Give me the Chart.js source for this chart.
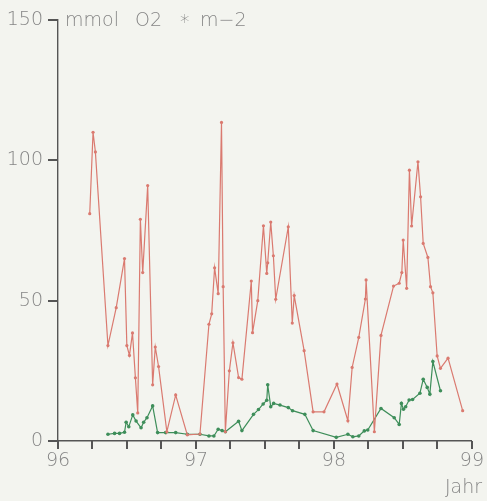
<!DOCTYPE html>
<html>
<head>
<meta charset="utf-8">
<script src="https://cdn.jsdelivr.net/npm/chart.js@4.4.0/dist/chart.umd.min.js"></script>
<style>
  html, body { margin: 0; padding: 0; background: #f3f4ef; }
  #wrap { width: 487px; height: 501px; }
</style>
</head>
<body>
<div id="wrap"><canvas id="o2-chart" width="487" height="501"></canvas></div>
<script>
// Red series (year, mmol O2 * m-2)
let redYears = [96.23, 96.254, 96.271, 96.362, 96.422, 96.482, 96.499, 96.518, 96.54, 96.561,
    96.578, 96.597, 96.614, 96.65, 96.686, 96.705, 96.729, 96.789, 96.853, 96.937,
    97.029, 97.094, 97.114, 97.135, 97.161, 97.185, 97.197, 97.213, 97.242, 97.268,
    97.309, 97.333, 97.401, 97.41, 97.448, 97.489, 97.513, 97.52, 97.542, 97.561,
    97.578, 97.669, 97.698, 97.712, 97.784, 97.849, 97.928, 98.022, 98.101, 98.132,
    98.18, 98.228, 98.233, 98.293, 98.341, 98.432, 98.473, 98.492, 98.502, 98.527,
    98.547, 98.563, 98.609, 98.628, 98.647, 98.681, 98.7, 98.717, 98.748, 98.772,
    98.827, 98.933];
let redValues = [81, 110, 103, 34, 47.5, 65, 34, 30.5, 38.5, 22.5,
    10, 79, 60, 91, 20, 33.5, 26.5, 3.3, 16.4, 2.2,
    2.5, 41.6, 45.3, 61.7, 52.5, 113.5, 55, 3.3, 25, 35,
    22.6, 22, 57, 38.6, 50, 76.7, 59.7, 63.5, 78, 66,
    50.5, 76.3, 42, 51.8, 32.2, 10.4, 10.4, 20.3, 7.2, 26.2,
    36.9, 50.6, 57.4, 3.3, 37.6, 55.2, 56.2, 60, 71.6, 54.4,
    96.5, 76.6, 99.5, 87, 70.4, 65.4, 55, 52.8, 30.3, 25.9,
    29.5, 10.8];

// Green series
let greenYears = [96.362, 96.41, 96.446, 96.482, 96.494, 96.513, 96.542, 96.566, 96.602, 96.621,
    96.645, 96.686, 96.722, 96.78, 96.853, 96.937, 97.029, 97.094, 97.13, 97.161,
    97.189, 97.213, 97.309, 97.333, 97.417, 97.453, 97.487, 97.513, 97.52, 97.542,
    97.563, 97.609, 97.669, 97.7, 97.789, 97.849, 98.017, 98.101, 98.137, 98.18,
    98.22, 98.245, 98.341, 98.437, 98.473, 98.489, 98.504, 98.52, 98.545, 98.57,
    98.623, 98.647, 98.676, 98.695, 98.717, 98.772];
let greenValues = [2.4, 2.7, 2.7, 3.1, 6.7, 5.1, 9.3, 7.1, 4.7, 6.7,
    8.3, 12.5, 3, 3, 3, 2.4, 2.4, 1.8, 1.8, 4.2,
    3.7, 3.3, 7, 3.7, 9.5, 11.2, 13.2, 14.5, 20, 12.2,
    13.4, 12.8, 11.9, 10.8, 9.5, 3.7, 1.3, 2.4, 1.5, 1.8,
    3.6, 3.9, 11.6, 8.3, 5.9, 13.4, 11.3, 12.2, 14.6, 14.8,
    17, 22, 19.1, 16.7, 28.3, 17.9];

let yTicks = [0, 50, 100, 150];
let xLabels = [96, 97, 98, 99];
let xTickValues = [96, 96.25, 96.5, 96.75, 97, 97.25, 97.5, 97.75, 98, 98.25, 98.5, 98.75, 99];

let redColor = 'rgb(218,122,112)';
let greenColor = 'rgb(62,142,90)';
let inkColor = '#858585';
let axisColor = '#555555';
let axisFont = { family: '"DejaVu Sans"', size: 19, weight: 200 };

function toPoints(xs, ys) {
    return xs.map((x, i) => ({ x: x, y: ys[i] }));
}

// tick marks, unit label at the top, "Jahr" at the bottom right
let textLabels = {
    id: 'textLabels',
    afterDraw(chart) {
        let c = chart.ctx;
        let xs = chart.scales.x, ys = chart.scales.y;
        let left = chart.chartArea.left, bottom = chart.chartArea.bottom;
        let top = ys.getPixelForValue(150);
        c.save();
        c.fillStyle = axisColor;
        xTickValues.forEach(v => {
            let px = Math.round(xs.getPixelForValue(v));
            c.fillRect(px - 1, bottom, 2, 8);
        });
        yTicks.forEach(v => {
            let py = Math.round(ys.getPixelForValue(v));
            c.fillRect(left - 10, py - 1, 10, 2);
        });

        c.fillStyle = inkColor;
        c.font = '200 19px "DejaVu Sans"';
        c.textBaseline = 'middle';
        c.textAlign = 'left';
        c.fillText('mmol', left + 7, top + 1);
        c.fillText('O2', left + 77, top + 1);
        c.fillText('*', left + 122, top + 3);
        c.fillText('m\u22122', left + 142, top + 1);
        c.textAlign = 'right';
        c.fillText('Jahr', chart.width - 5, 488);
        c.restore();
    }
};

let ctx = document.getElementById('o2-chart').getContext('2d');

let o2Chart = new Chart(ctx, {
    type: 'line',
    data: {
        datasets: [{
            data: toPoints(redYears, redValues),
            borderColor: redColor,
            backgroundColor: redColor,
            borderWidth: 1.2,
            pointRadius: 1.6,
            pointBorderWidth: 0,
            tension: 0
        }, {
            data: toPoints(greenYears, greenValues),
            borderColor: greenColor,
            backgroundColor: greenColor,
            borderWidth: 1.2,
            pointRadius: 1.8,
            pointBorderWidth: 0,
            tension: 0
        }]
    },
    options: {
        responsive: false,
        animation: false,
        layout: {
            padding: { top: 20, right: 12, left: 0, bottom: 0 }
        },
        scales: {
            x: {
                type: 'linear',
                min: 96,
                max: 99,
                afterFit: s => { s.height = 60; },
                afterBuildTicks: s => { s.ticks = xTickValues.map(v => ({ value: v })); },
                ticks: {
                    autoSkip: false,
                    maxRotation: 0,
                    color: inkColor,
                    font: axisFont,
                    padding: 3,
                    callback: v => xLabels.includes(v) ? String(v) : ''
                },
                grid: { drawOnChartArea: false, tickLength: 6, tickColor: 'rgba(0,0,0,0)' },
                border: { color: axisColor, width: 1.4 }
            },
            y: {
                min: 0,
                max: 150,
                afterFit: s => { s.width = 58; },
                afterBuildTicks: s => { s.ticks = yTicks.map(v => ({ value: v })); },
                ticks: {
                    color: inkColor,
                    font: axisFont,
                    padding: 6
                },
                grid: { drawOnChartArea: false, tickLength: 9, tickColor: 'rgba(0,0,0,0)' },
                border: { color: axisColor, width: 1.4 }
            }
        },
        plugins: {
            legend: { display: false },
            tooltip: { enabled: false }
        }
    },
    plugins: [textLabels]
});
</script>
</body>
</html>
